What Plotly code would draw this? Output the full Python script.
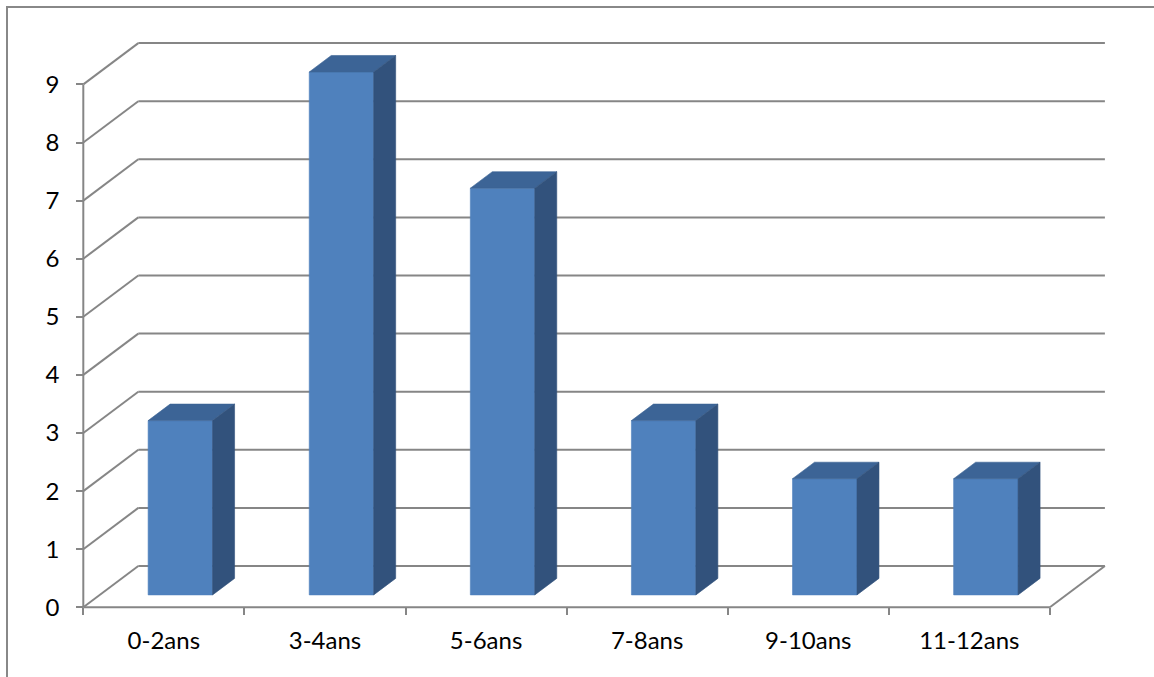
import plotly.graph_objects as go

# ---- data ----
categories = ["0-2ans", "3-4ans", "5-6ans", "7-8ans", "9-10ans", "11-12ans"]
values = [3, 9, 7, 3, 2, 2]
y_ticks = list(range(0, 10))

# ---- layout geometry (pixels) ----
W, H = 1154, 677
PX_X0, PX_UX = 83.3, 161.1      # pixel of x=-0.5 and px per category
PX_Y0, PX_UY = 607.3, 58.1      # pixel of y=0 and px per unit
L, R, T, B = 70, 1125, 28, 625  # plot area box

xmin = -0.5 + (L - PX_X0) / PX_UX
xmax = -0.5 + (R - PX_X0) / PX_UX
ymax = (PX_Y0 - T) / PX_UY
ymin = (PX_Y0 - B) / PX_UY

DX = 55 / PX_UX      # depth offset in x units
DY = 41.3 / PX_UY    # depth offset in y units
F1, F2 = 0.30, 0.70  # bar front/back depth fractions
BW = 0.40            # bar width

n = len(categories)
ymaxtick = max(y_ticks)
GRID = "#868686"
GW = 2

shapes = []
def line(x0, y0, x1, y1):
    shapes.append(dict(type="line", xref="x", yref="y", x0=x0, y0=y0, x1=x1, y1=y1,
                       line=dict(color=GRID, width=GW), layer="below"))

left, right = -0.5, n - 0.5
for k in y_ticks:
    # back wall
    line(left + DX, k + DY, right + DX, k + DY)
    # side wall
    line(left, k, left + DX, k + DY)
line(left, 0, left, ymaxtick)
line(left, 0, right, 0)
line(right, 0, right + DX, DY)

fig = go.Figure()

FRONT, TOP, SIDE = "#4F81BD", "#3C6496", "#32527C"
for i, v in enumerate(values):
    fx0 = i - BW / 2 + F1 * DX
    fx1 = i + BW / 2 + F1 * DX
    fy0 = F1 * DY
    fy1 = v + F1 * DY
    ddx = (F2 - F1) * DX
    ddy = (F2 - F1) * DY
    polys = [
        ([fx0, fx1, fx1, fx0, fx0], [fy0, fy0, fy1, fy1, fy0], FRONT),
        ([fx0, fx1, fx1 + ddx, fx0 + ddx, fx0], [fy1, fy1, fy1 + ddy, fy1 + ddy, fy1], TOP),
        ([fx1, fx1 + ddx, fx1 + ddx, fx1, fx1], [fy0, fy0 + ddy, fy1 + ddy, fy1, fy0], SIDE),
    ]
    for xs, ys, c in polys:
        fig.add_trace(go.Scatter(x=xs, y=ys, mode="lines", fill="toself", fillcolor=c,
                                 line=dict(width=0.6, color=c), hoverinfo="skip",
                                 showlegend=False))

# outer border
pw, ph = R - L, B - T
shapes.append(dict(type="rect", xref="paper", yref="paper",
                   x0=(7 - L) / pw, x1=(W + 10 - L) / pw,
                   y0=(B - (H + 10)) / ph, y1=(B - 7) / ph,
                   line=dict(color="#888888", width=2), fillcolor="rgba(0,0,0,0)", layer="below"))

FONT = dict(family="Lato", size=24, color="#000000")

fig.update_layout(
    width=W, height=H, autosize=False,
    margin=dict(l=L, r=W - R, t=T, b=H - B, pad=0),
    paper_bgcolor="white", plot_bgcolor="white",
    showlegend=False,
    shapes=shapes,
    xaxis=dict(range=[xmin, xmax], showgrid=False, zeroline=False, showline=False,
               tickmode="array", tickvals=list(range(n)), ticktext=categories,
               ticks="", tickfont=FONT, anchor="free",
               position=(0 - ymin) / (ymax - ymin), ticklabelstandoff=17,
               minor=dict(tickmode="array", tickvals=[i - 0.5 for i in range(n + 1)],
                          ticks="outside", ticklen=7, tickwidth=2, tickcolor=GRID,
                          showgrid=False)),
    yaxis=dict(range=[ymin, ymax], showgrid=False, zeroline=False, showline=False,
               tickmode="array", tickvals=y_ticks, ticktext=[str(t) for t in y_ticks],
               ticks="outside", ticklen=7, tickwidth=2, tickcolor=GRID,
               tickfont=FONT, anchor="free",
               position=(-0.5 - xmin) / (xmax - xmin), ticklabelstandoff=12),
)

fig.write_html("out.html")
